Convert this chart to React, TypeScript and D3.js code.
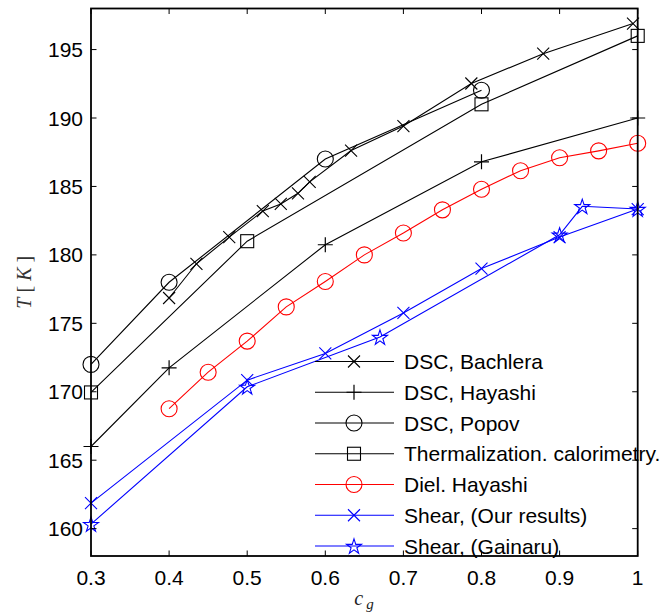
import React from "react";
import * as d3 from "d3";

const bachleraX = [0.4, 0.435, 0.477, 0.52, 0.543, 0.565, 0.58, 0.633, 0.7, 0.787, 0.879, 0.994];
const bachleraY = [176.85, 179.35, 181.3, 183.2, 183.72, 184.5, 185.33, 187.62, 189.41, 192.52, 194.7, 196.9];

const hayashiX = [0.3, 0.4, 0.6, 0.8, 1.0];
const hayashiY = [166.0, 171.75, 180.74, 186.8, 190.0];

const popovX = [0.3, 0.4, 0.6, 0.8];
const popovY = [172.0, 178.0, 187.0, 192.03];

const thermX = [0.3, 0.5, 0.8, 1.0];
const thermY = [169.95, 181.0, 191.0, 196.0];

const dielX = [0.4, 0.45, 0.5, 0.55, 0.6, 0.65, 0.7, 0.75, 0.8, 0.85, 0.9, 0.95, 1.0];
const dielY = [168.76, 171.43, 173.7, 176.2, 178.06, 180.0, 181.6, 183.29, 184.8, 186.15, 187.1, 187.6, 188.15];

const shearOurX = [0.3, 0.5, 0.6, 0.7, 0.8, 0.9, 1.0];
const shearOurY = [161.86, 170.85, 172.8, 175.76, 179.0, 181.3, 183.35];

const gainaruX = [0.3, 0.5, 0.67, 0.9, 0.929, 1.0];
const gainaruY = [160.33, 170.36, 174.0, 181.47, 183.55, 183.35];

const xTicks = [0.3, 0.4, 0.5, 0.6, 0.7, 0.8, 0.9, 1];
const xTickLabels = ["0.3", "0.4", "0.5", "0.6", "0.7", "0.8", "0.9", "1"];
const yTicks = [160, 165, 170, 175, 180, 185, 190, 195];
const yTickLabels = ["160", "165", "170", "175", "180", "185", "190", "195"];

type Marker = "x" | "plus" | "circle" | "square" | "star";

const seriesNames = [
  "DSC, Bachlera",
  "DSC, Hayashi",
  "DSC, Popov",
  "Thermalization. calorimetry.",
  "Diel. Hayashi",
  "Shear, (Our results)",
  "Shear, (Gainaru)",
];
const seriesXs = [bachleraX, hayashiX, popovX, thermX, dielX, shearOurX, gainaruX];
const seriesYs = [bachleraY, hayashiY, popovY, thermY, dielY, shearOurY, gainaruY];
const seriesColors = ["#000", "#000", "#000", "#000", "#ff0000", "#0000ff", "#0000ff"];
const seriesMarkers: Marker[] = ["x", "plus", "circle", "square", "circle", "x", "star"];

const W = 669;
const H = 616;
const L = 91;
const R = 637.7;
const T = 8.5;
const B = 556;

const x = d3.scaleLinear().domain([0.3, 1]).range([L, R]);
const y = d3.scaleLinear().domain([158, 198]).range([B, T]);

const starPath = d3.symbol().type(d3.symbolStar).size(70)() as string;

function MarkerShape({ m, cx, cy, color }: { m: Marker; cx: number; cy: number; color: string }) {
  const common = { stroke: color, fill: "none", strokeWidth: 1.1 };
  switch (m) {
    case "x": {
      const s = 6;
      return (
        <path d={`M${cx - s},${cy - s}L${cx + s},${cy + s}M${cx - s},${cy + s}L${cx + s},${cy - s}`} {...common} />
      );
    }
    case "plus": {
      const s = 7.5;
      return <path d={`M${cx - s},${cy}L${cx + s},${cy}M${cx},${cy - s}L${cx},${cy + s}`} {...common} strokeWidth={1.2} />;
    }
    case "circle":
      return <circle cx={cx} cy={cy} r={8} {...common} />;
    case "square":
      return <rect x={cx - 6.5} y={cy - 6.5} width={13} height={13} {...common} />;
    case "star":
      return <path d={starPath} transform={`translate(${cx},${cy + 0.8})`} {...common} />;
  }
}

export default function App() {
  const line = d3
    .line<[number, number]>()
    .x((d) => x(d[0]))
    .y((d) => y(d[1]));

  const legendX0 = 315;
  const legendX1 = 394;
  const legendMX = 354;
  const legendTextX = 404;
  const legendY0 = 361.5;
  const legendDY = 30.75;

  const fontSans = "Arial, 'Liberation Sans', Helvetica, sans-serif";
  const fontSerif = "'Times New Roman', 'Liberation Serif', 'DejaVu Serif', serif";
  const fs = 21;

  return (
    <svg
      width={W}
      height={H}
      style={{ position: "absolute", left: 0, top: 0, background: "#fff" }}
      xmlns="http://www.w3.org/2000/svg"
    >
      <rect x={0} y={0} width={W} height={H} fill="#fff" />
      {/* series */}
      {seriesNames.map((name, i) => {
        const pts: [number, number][] = seriesXs[i].map((v, j) => [v, seriesYs[i][j]]);
        return (
          <g key={name}>
            <path d={line(pts) as string} fill="none" stroke={seriesColors[i]} strokeWidth={1.1} />
            {pts.map((p, j) => (
              <MarkerShape key={j} m={seriesMarkers[i]} cx={x(p[0])} cy={y(p[1])} color={seriesColors[i]} />
            ))}
          </g>
        );
      })}

      {/* axes box */}
      <rect x={L} y={T} width={R - L} height={B - T} fill="none" stroke="#000" strokeWidth={1.8} />
      {xTicks.map((t, i) => (
        <g key={"xt" + i}>
          <line x1={x(t)} x2={x(t)} y1={B} y2={B - 5.5} stroke="#000" strokeWidth={1} />
          <line x1={x(t)} x2={x(t)} y1={T} y2={T + 5.5} stroke="#000" strokeWidth={1} />
          <text x={x(t)} y={584.5} textAnchor="middle" fontFamily={fontSans} fontSize={fs} fill="#000">
            {xTickLabels[i]}
          </text>
        </g>
      ))}
      {yTicks.map((t, i) => (
        <g key={"yt" + i}>
          <line x1={L} x2={L + 5.5} y1={y(t)} y2={y(t)} stroke="#000" strokeWidth={1} />
          <line x1={R} x2={R - 5.5} y1={y(t)} y2={y(t)} stroke="#000" strokeWidth={1} />
          <text x={L - 8} y={y(t) + 7.5} textAnchor="end" fontFamily={fontSans} fontSize={fs} fill="#000">
            {yTickLabels[i]}
          </text>
        </g>
      ))}

      {/* axis labels */}
      <text x={364} y={605} textAnchor="middle" fontFamily={fontSerif} fontStyle="italic" fontSize={20} fill="#222">
        c
        <tspan dx={3} dy={4} fontSize={15}>
          g
        </tspan>
      </text>
      <text
        transform={`translate(31, ${(T + B) / 2}) rotate(-90)`}
        textAnchor="middle"
        fontFamily={fontSerif}
        fontSize={20}
        fill="#333"
      >
        <tspan fontStyle="italic">T</tspan>
        <tspan> [ </tspan>
        <tspan fontStyle="italic">K</tspan>
        <tspan> ]</tspan>
      </text>

      {/* legend */}
      {seriesNames.map((name, i) => {
        const ly = legendY0 + i * legendDY;
        return (
          <g key={"lg" + i}>
            <line x1={legendX0} x2={legendX1} y1={ly} y2={ly} stroke={seriesColors[i]} strokeWidth={1.1} />
            <MarkerShape m={seriesMarkers[i]} cx={legendMX} cy={ly} color={seriesColors[i]} />
            <text x={legendTextX} y={ly + 7.5} fontFamily={fontSans} fontSize={fs} fill="#000">
              {name}
            </text>
          </g>
        );
      })}
    </svg>
  );
}
